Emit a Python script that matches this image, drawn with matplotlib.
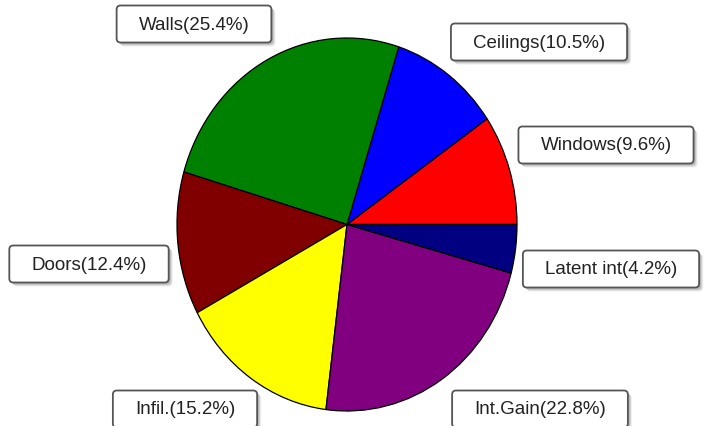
import matplotlib
matplotlib.use("Agg")
import matplotlib.pyplot as plt
from matplotlib.patches import FancyBboxPatch

# heat load breakdown
labels = ["Windows", "Ceilings", "Walls", "Doors", "Infil.", "Int.Gain", "Latent int"]
shares = [9.6, 10.5, 25.4, 12.4, 15.2, 22.8, 4.2]
colors = ["#ff0000", "#0000ff", "#008000", "#800000", "#ffff00", "#800080", "#000080"]

# label box centres in pixels (from top-left)
label_pos = [(606, 146), (539, 43), (194, 25), (89, 265), (185, 410), (540, 410), (611, 270)]

W, H = 707, 427
fig = plt.figure(figsize=(W / 100, H / 100), dpi=100)
fig.patch.set_facecolor("white")

# pie is slightly stretched vertically in the original
ax = fig.add_axes([177 / W, (H - 412) / H, 340 / W, 373 / H])
ax.pie(shares, colors=colors, startangle=0, counterclock=True,
       wedgeprops=dict(edgecolor="black", linewidth=0.9))
ax.set_aspect("auto")
ax.set_xlim(-1.0, 1.0)
ax.set_ylim(-1.0, 1.0)

fig.canvas.draw()
renderer = fig.canvas.get_renderer()

for name, val, (px, py) in zip(labels, shares, label_pos):
    t = fig.text(px / W, 1 - py / H, f"{name}({val}%)", ha="center", va="center",
                 fontsize=13.5, family="Liberation Sans", color="#222222", zorder=5)
    bb = t.get_window_extent(renderer)
    padx, pady = 22, 10
    x0, y0 = bb.x0 - padx, bb.y0 - pady
    w, h = bb.width + 2 * padx, bb.height + 2 * pady
    # soft shadow
    for k, a in [(4, 0.12), (3, 0.2), (2, 0.28)]:
        sh = FancyBboxPatch((x0 + k, y0 - k), w, h, boxstyle="round,pad=0,rounding_size=4",
                            transform=None, facecolor="#707070", edgecolor="none",
                            alpha=a, zorder=3)
        fig.patches.append(sh)
    box = FancyBboxPatch((x0, y0), w, h, boxstyle="round,pad=0,rounding_size=4",
                         transform=None, facecolor="white", edgecolor="#555555",
                         linewidth=1.3, zorder=4)
    fig.patches.append(box)

fig.savefig("out.png", dpi=100)
